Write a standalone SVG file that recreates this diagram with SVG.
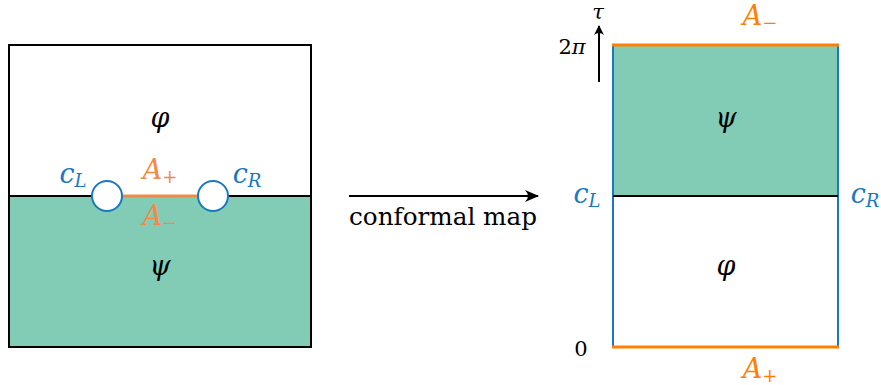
<svg xmlns="http://www.w3.org/2000/svg" width="881" height="385" viewBox="0 0 881 385">
<style>
text{font-family:"DejaVu Serif","Liberation Serif",serif}
.m{font-style:italic;font-size:27px;text-anchor:middle}
.r{font-size:21px;text-anchor:middle}
.sub{font-size:18px}
.blue{fill:#1a78c2}
.or{fill:#f28a45}
.or2{fill:#ff8000}
</style>
<defs>
<marker id="ah" markerWidth="14" markerHeight="12" refX="13" refY="6" orient="auto" markerUnits="userSpaceOnUse">
<path d="M0,0 Q6,6 0,12 L14,6 Z" fill="#000"/>
</marker>
<marker id="ah2" markerWidth="10" markerHeight="10" refX="9" refY="5" orient="auto" markerUnits="userSpaceOnUse">
<path d="M0,0 Q4,5 0,10 L10,5 Z" fill="#000"/>
</marker>
</defs>
<g id="left-box">
<rect x="9" y="196" width="302" height="151" fill="#82ccb6"/>
<rect x="9" y="45" width="302" height="302" fill="none" stroke="#000" stroke-width="2"/>
<line x1="9" y1="196" x2="311" y2="196" stroke="#000" stroke-width="2"/>
<line x1="122" y1="196" x2="198" y2="196" stroke="#f28a45" stroke-width="3"/>
<circle cx="107" cy="196" r="15" fill="#fff" stroke="#1a78c2" stroke-width="2"/>
<circle cx="213" cy="196" r="15" fill="#fff" stroke="#1a78c2" stroke-width="2"/>
<text class="m" x="160" y="127">φ</text>
<text class="m" x="160" y="275">ψ</text>
<text class="m blue" x="73" y="183">c<tspan class="sub" dy="4">L</tspan></text>
<text class="m blue" x="247" y="183">c<tspan class="sub" dy="4">R</tspan></text>
<text class="m or" x="160" y="179">A<tspan class="sub" dy="4">+</tspan></text>
<text class="m or" x="160" y="225">A<tspan class="sub" dy="4">−</tspan></text>
</g>
<g id="connectors">
<line x1="349" y1="196" x2="538" y2="196" stroke="#000" stroke-width="2" marker-end="url(#ah)"/>
<line x1="599" y1="82" x2="599" y2="26" stroke="#000" stroke-width="2" marker-end="url(#ah2)"/>
</g>
<text class="r" x="443" y="225" style="font-size:24px" textLength="188" lengthAdjust="spacingAndGlyphs">conformal map</text>
<g id="right-box">
<rect x="613" y="45" width="225" height="151" fill="#82ccb6"/>
<line x1="613" y1="45" x2="613" y2="347" stroke="#1a78c2" stroke-width="2"/>
<line x1="838" y1="45" x2="838" y2="347" stroke="#1a78c2" stroke-width="2"/>
<line x1="613" y1="196" x2="838" y2="196" stroke="#000" stroke-width="2"/>
<line x1="612" y1="45" x2="839" y2="45" stroke="#ff8000" stroke-width="3"/>
<line x1="612" y1="347" x2="839" y2="347" stroke="#ff8000" stroke-width="3"/>
<text class="m" x="726" y="127">ψ</text>
<text class="m" x="726" y="275">φ</text>
<text class="m or2" x="760" y="25">A<tspan class="sub" dy="4">−</tspan></text>
<text class="m or2" x="760" y="378">A<tspan class="sub" dy="4">+</tspan></text>
<text class="m blue" x="587" y="203">c<tspan class="sub" dy="4">L</tspan></text>
<text class="m blue" x="865" y="203">c<tspan class="sub" dy="4">R</tspan></text>
<text class="m" x="598" y="19" style="font-size:21px">τ</text>
<text class="r" x="572" y="54">2<tspan font-style="italic">π</tspan></text>
<text class="r" x="581" y="356">0</text>
</g>
</svg>
